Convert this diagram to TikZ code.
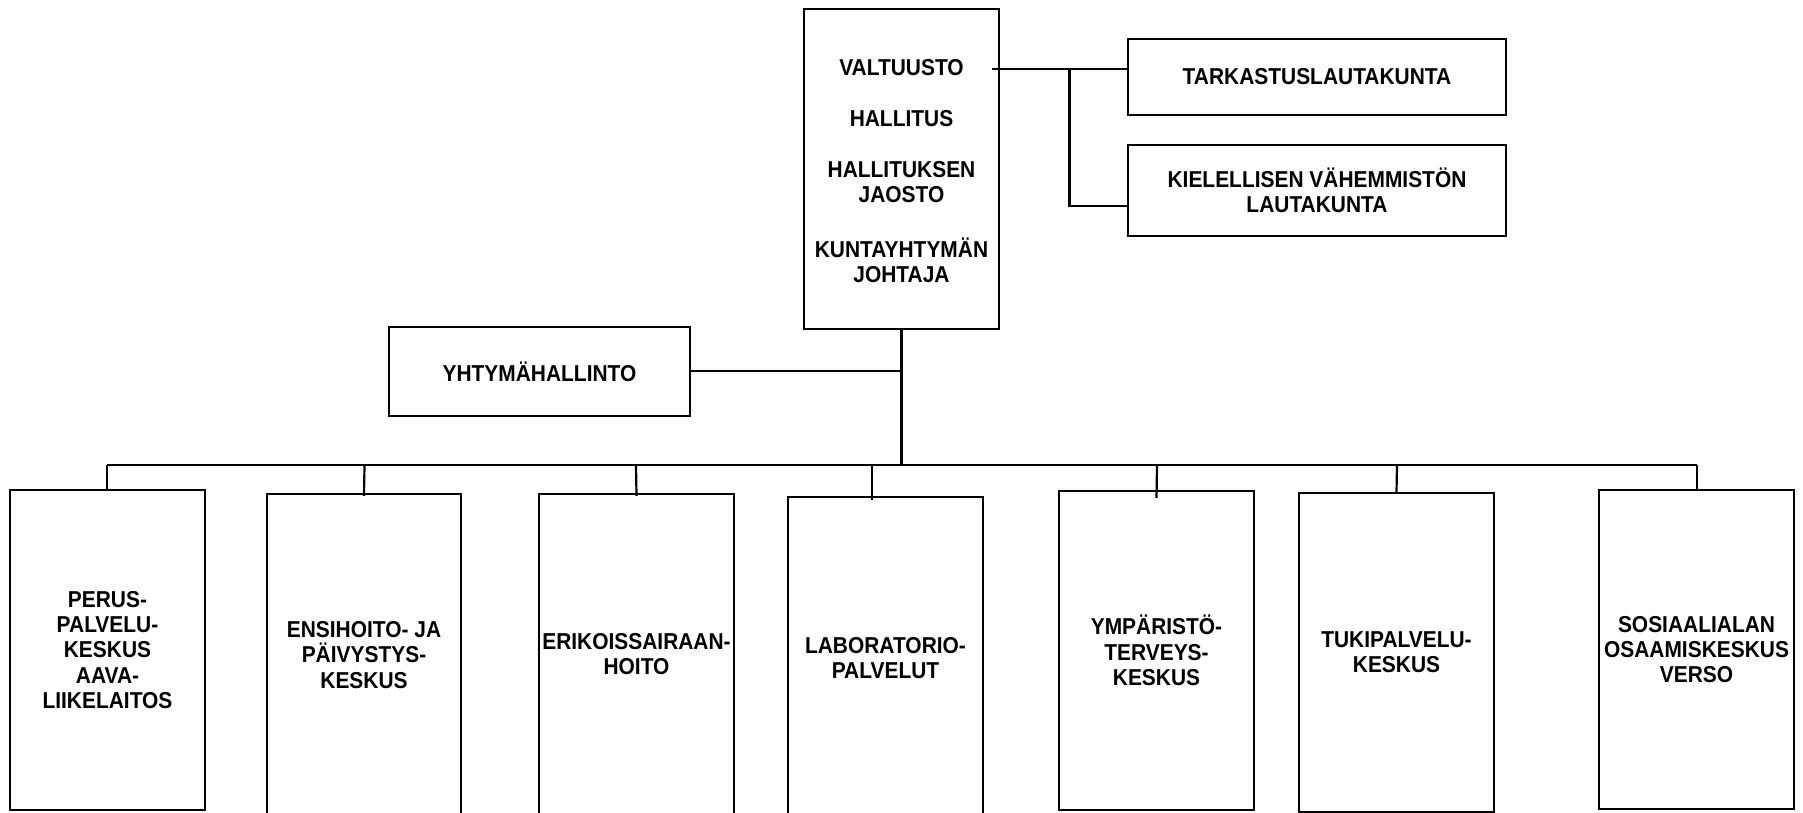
\documentclass[tikz,border=0pt]{standalone}
\usepackage{fontspec}
\setmainfont[FakeStretch=0.91]{Liberation Sans}
\usetikzlibrary{fit,calc}
\begin{document}
\begin{tikzpicture}[x=0.5pt,y=-0.5pt,line width=1.1pt,
  box/.style={draw,line width=1.1pt,rectangle,inner sep=0pt},
  lbl/.style={font=\fontsize{11.5}{12.65}\selectfont\bfseries,align=center,inner sep=0pt}]
\useasboundingbox (0,0) rectangle (1803,813);
% top box
\node[box,fit={(804,9) (999,329)}] (top) {};
\node[lbl] (valt) at (901.5,68) {VALTUUSTO};
\node[lbl] (hall) at (901.5,118.5) {HALLITUS};
\node[lbl] (jaos) at (901.5,182) {HALLITUKSEN\\JAOSTO};
\node[lbl] (joht) at (901.5,260.5) {KUNTAYHTYMÄN\\JOHTAJA};
% right boxes
\node[box,fit={(1128,39) (1506,115)}] (tark) {};
\node[lbl] at (tark.center) {TARKASTUSLAUTAKUNTA};
\node[box,fit={(1128,145) (1506,236)}] (kiel) {};
\node[lbl] at (kiel.center) {KIELELLISEN VÄHEMMISTÖN\\LAUTAKUNTA};
\coordinate (vstart) at (992,69);
\coordinate (vbr) at (1069.5,69);
\draw (vstart) -- (vstart -| tark.west);
\draw (vbr) |- (kiel.west |- 0,206);
% yhtymahallinto
\node[box,fit={(389,327) (690,416)}] (yht) {};
\node[lbl] at (yht.center) {YHTYMÄHALLINTO};
\coordinate (trunk) at (901.5,465);
\draw (top.south) -- (trunk);
\draw (yht.east |- 0,371) -- (901.5,371);
% bus
\coordinate (busL) at (107,465);
\coordinate (busR) at (1697,465);
\draw (busL) -- (busR);
% bottom boxes
\node[box,fit={(10,490) (205,810)}] (b1) {};
\node[lbl] at (b1.center) {PERUS-\\PALVELU-\\KESKUS\\AAVA-\\LIIKELAITOS};
\node[box,fit={(267,494) (461,830)}] (b2) {};
\node[lbl] at (364,655) {ENSIHOITO- JA\\PÄIVYSTYS-\\KESKUS};
\node[box,fit={(539,494) (734,830)}] (b3) {};
\node[lbl] at (636.5,654) {ERIKOISSAIRAAN-\\HOITO};
\node[box,fit={(788,497) (983,830)}] (b4) {};
\node[lbl] at (885.5,658) {LABORATORIO-\\PALVELUT};
\node[box,fit={(1059,491) (1254,810)}] (b5) {};
\node[lbl] at (b5.center) {YMPÄRISTÖ-\\TERVEYS-\\KESKUS};
\node[box,fit={(1299,493) (1494,812)}] (b6) {};
\node[lbl] at (b6.center) {TUKIPALVELU-\\KESKUS};
\node[box,fit={(1599,490) (1794,809)}] (b7) {};
\node[lbl] at (b7.center) {SOSIAALIALAN\\OSAAMISKESKUS\\VERSO};
% drops
\draw (busL) -- (b1.north -| busL);
\draw (364.5,465) -- ($(b2.north)+(0,3)$);
\draw (636,465) -- ($(b3.north)+(0,3)$);
\draw (872,465) -- ($(b4.north -| 872,0)+(0,4)$);
\draw (1157,465) -- ($(b5.north)+(0,8)$);
\draw (1397,465) -- (b6.north);
\draw (busR) -- (b7.north -| busR);
\end{tikzpicture}
\end{document}
